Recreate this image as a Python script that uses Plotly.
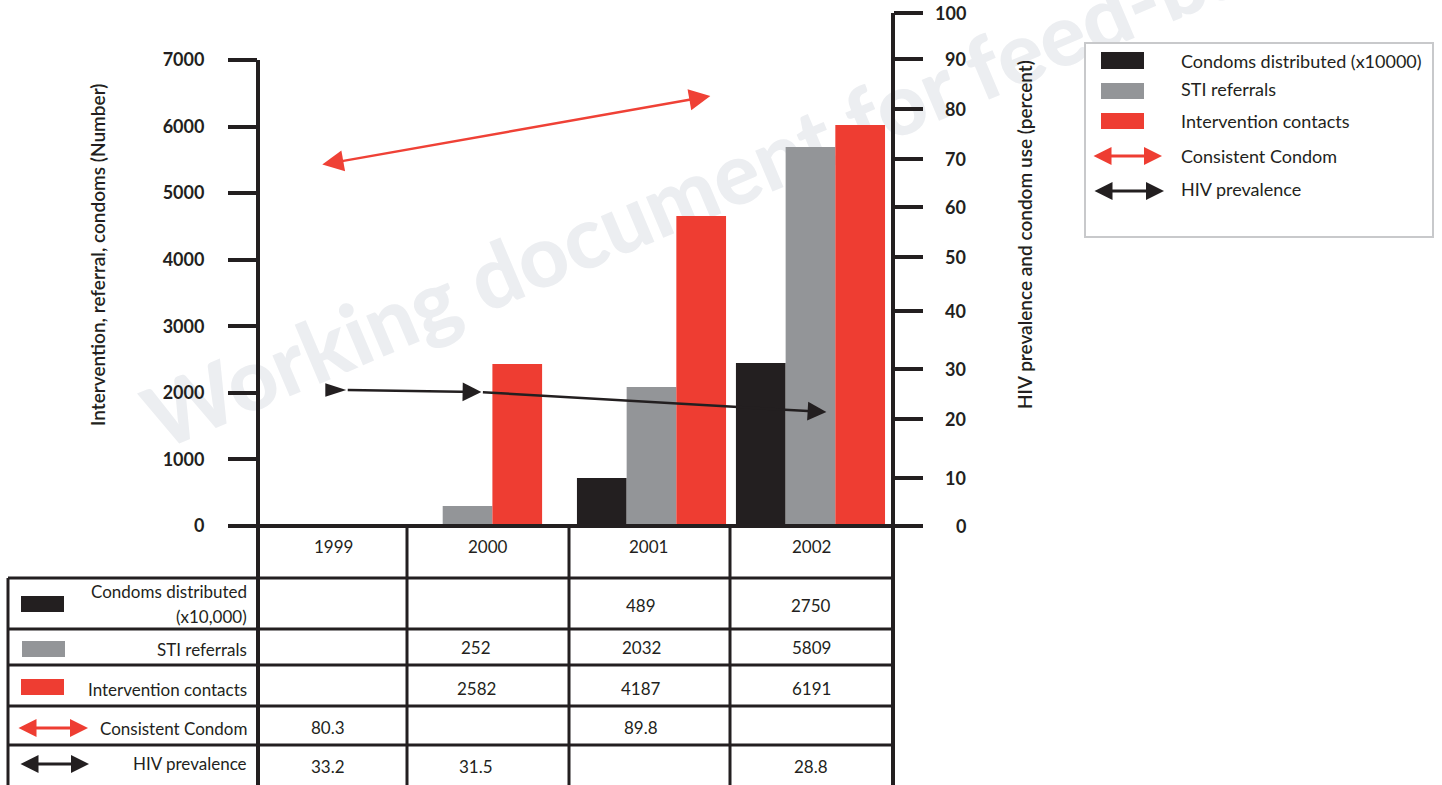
import plotly.graph_objects as go

# ---------------- data ----------------
years = [1999, 2000, 2001, 2002]
year_labels = ["1999", "2000", "2001", "2002"]

# bar heights as drawn against the left axis (Number)
condoms_bar = [None, None, 721, 2449]
sti_bar = [None, 300, 2088, 5693]
contacts_bar = [None, 2433, 4657, 6024]

# values printed in the data table
condoms_tbl = ["", "", "489", "2750"]
sti_tbl = ["", "252", "2032", "5809"]
contacts_tbl = ["", "2582", "4187", "6191"]
condom_use_tbl = ["80.3", "", "89.8", ""]
hiv_tbl = ["33.2", "31.5", "", "28.8"]

# trend arrows as drawn against the right axis (percent)
condom_use_x = [1998.92, 2001.37]
condom_use_y = [70.4, 83.8]
hiv_x = [1999.08, 1999.93, 2002.10]
hiv_y = [26.5, 26.1, 22.2]

left_tick_vals = [0, 1000, 2000, 3000, 4000, 5000, 6000, 7000]
right_tick_text = ["0", "10", "20", "30", "40", "50", "60", "70", "80", "90", "100"]
right_tick_pos = [0, 9.4, 20.9, 30.6, 41.9, 52.4, 62.2, 71.5, 81.3, 91.0, 100]

legend_labels = ["Condoms distributed (x10000)", "STI referrals",
                 "Intervention contacts", "Consistent Condom", "HIV prevalence"]
row_labels = ["STI referrals", "Intervention contacts", "Consistent Condom", "HIV prevalence"]

left_title = "Intervention, referral, condoms (Number)"
right_title = "HIV prevalence and condom use (percent)"
watermark = "Working document for feed-back"

# ---------------- style ----------------
DARK = "#231f20"
GRAY = "#939598"
RED = "#ee3d32"
FONT = "Lato"
W, H = 1442, 785
L, R, T, B = 258, 893, 13, 526  # plot area in pixels


def px(x):
    return (x - L) / (R - L)


def py(y):
    return (B - y) / (B - T)


bar_w = 0.3126
group_shift = [0, -0.157, 0, 0]

fig = go.Figure()
for k, (vals, col) in enumerate([(condoms_bar, DARK), (sti_bar, GRAY), (contacts_bar, RED)]):
    fig.add_trace(go.Bar(
        x=years, y=vals, width=bar_w,
        offset=[(-1.5 + k) * bar_w + s for s in group_shift],
        marker=dict(color=col, line=dict(width=0)),
        hoverinfo="skip"))

# tail of HIV prevalence arrow
fig.add_trace(go.Scatter(
    x=hiv_x[:1], y=hiv_y[:1], yaxis="y2", mode="markers",
    marker=dict(symbol="arrow", angle=90, size=22, color=DARK, line=dict(width=0)),
    hoverinfo="skip"))

shapes = []
annots = []


def hline(y, x0, x1, w=3):
    shapes.append(dict(type="line", xref="paper", yref="paper", x0=px(x0), x1=px(x1),
                       y0=py(y), y1=py(y), line=dict(color=DARK, width=w)))


def vline(x, y0, y1, w=3):
    shapes.append(dict(type="line", xref="paper", yref="paper", x0=px(x), x1=px(x),
                       y0=py(y0), y1=py(y1), line=dict(color=DARK, width=w)))


def rect(x0, y0, x1, y1, fill, line_col=None, lw=0):
    shapes.append(dict(type="rect", xref="paper", yref="paper", x0=px(x0), x1=px(x1),
                       y0=py(y1), y1=py(y0), fillcolor=fill,
                       line=dict(color=line_col or fill, width=lw)))


def text(x, y, s, anchor="center", size=17, weight="normal", angle=0):
    annots.append(dict(xref="paper", yref="paper", x=px(x), y=py(y), text=s,
                       showarrow=False, xanchor=anchor, yanchor="middle", textangle=angle,
                       font=dict(family=FONT, size=size, color=DARK, weight=weight)))


def dbl_arrow(x0, x1, y, col, w=3):
    annots.append(dict(xref="paper", yref="paper", x=px(x1), y=py(y), ax=-(x1 - x0), ay=0,
                       text="", showarrow=True, arrowside="end+start", arrowhead=2,
                       arrowsize=1.2, arrowwidth=w, arrowcolor=col, standoff=0, startstandoff=0))


# watermark (behind bars)
shapes.append(dict(type="rect", xref="paper", yref="paper", layer="below",
                   x0=px(725), x1=px(745), y0=py(180), y1=py(160),
                   line=dict(width=0), fillcolor="rgba(0,0,0,0)",
                   label=dict(text=watermark, textangle=-23, textposition="middle center",
                              font=dict(family=FONT, size=86, color="#eceef1", weight=900))))

# axes lines
vline(L, 60, 790, 4)
vline(R, 13, 790, 4)
hline(B, 240, 922, 4)

# table grid
for y in [578, 629, 665, 706, 745]:
    hline(y, 8, R)
vline(8, 578, 790)
for x in [407, 569, 730]:
    vline(x, B, 790)

# header years
for x, s in zip([333, 488, 648, 811], year_labels):
    text(x, 546, s)

# table rows
text(249, 591, "Condoms distributed", "right")
text(249, 616, "(x10,000)", "right")
for y, s in zip([649, 689, 728, 764], row_labels):
    text(249, y, s, "right")
rect(21, 596, 64, 612, DARK)
rect(22, 641, 65, 657, GRAY)
rect(21, 679, 64, 695, RED)
dbl_arrow(17, 88, 728, RED)
dbl_arrow(19, 89, 764, DARK)

col_x = [328, 476, 641, 811]
for vals, y in [(condoms_tbl, 605), (sti_tbl, 647), (contacts_tbl, 688),
                (condom_use_tbl, 727), (hiv_tbl, 766)]:
    for x, s in zip(col_x, vals):
        if s:
            text(x, y, s)

# right tick labels
for v, s in zip(right_tick_pos, right_tick_text):
    annots.append(dict(xref="paper", yref="y2", x=px(968), y=v, text=s, showarrow=False,
                       xanchor="right", yanchor="middle",
                       font=dict(family=FONT, size=18, color=DARK, weight="bold")))

# axis titles
text(97, 255, left_title, size=19, weight=600, angle=-90)
text(1024, 234, right_title, size=19, weight=600, angle=-90)

# legend box
rect(1085, 43, 1433, 237, "white", "#c8c9cb", 2)
rect(1101, 52, 1144, 69, DARK)
rect(1101, 83, 1144, 99, GRAY)
rect(1101, 113, 1144, 129, RED)
dbl_arrow(1092, 1162, 156, RED)
dbl_arrow(1093, 1164, 191, DARK)
for y, s in zip([61, 89, 121, 156, 189], legend_labels):
    text(1179, y, s, "left", size=18)

# trend arrows in data coordinates
annots.append(dict(xref="x", yref="y2", axref="x", ayref="y2",
                   x=condom_use_x[1], y=condom_use_y[1], ax=condom_use_x[0], ay=condom_use_y[0],
                   text="", showarrow=True, arrowside="end+start", arrowhead=2, arrowsize=1.7,
                   arrowwidth=2.5, arrowcolor="#ef4136", standoff=0, startstandoff=0))
for i in range(1, len(hiv_x)):
    annots.append(dict(xref="x", yref="y2", axref="x", ayref="y2",
                       x=hiv_x[i], y=hiv_y[i], ax=hiv_x[i - 1], ay=hiv_y[i - 1],
                       text="", showarrow=True, arrowhead=2, arrowsize=1.5,
                       arrowwidth=2.5, arrowcolor=DARK, standoff=0, startstandoff=0))

fig.update_layout(
    width=W, height=H, autosize=False,
    margin=dict(l=L, r=W - R, t=T, b=H - B, pad=0),
    paper_bgcolor="white", plot_bgcolor="white",
    showlegend=False, barmode="overlay",
    font=dict(family=FONT, color=DARK),
    xaxis=dict(range=[1998.525, 2002.519], showgrid=False, zeroline=False, showline=False,
               showticklabels=False, ticks=""),
    yaxis=dict(range=[0, 7706], tickvals=left_tick_vals, ticks="outside", ticklen=29,
               tickwidth=4, tickcolor=DARK, showgrid=False, zeroline=False, showline=False,
               ticklabelstandoff=20,
               tickfont=dict(family=FONT, size=18, color=DARK, weight="bold")),
    yaxis2=dict(range=[0, 100], overlaying="y", side="right", anchor="x",
                tickvals=right_tick_pos, ticks="outside", ticklen=29, tickwidth=4,
                tickcolor=DARK, showticklabels=False, showgrid=False, zeroline=False,
                showline=False),
    shapes=shapes, annotations=annots,
)

fig.write_html("out.html", config={"displayModeBar": False},
               post_script="document.body.style.margin='0';document.body.style.overflow='hidden';")
